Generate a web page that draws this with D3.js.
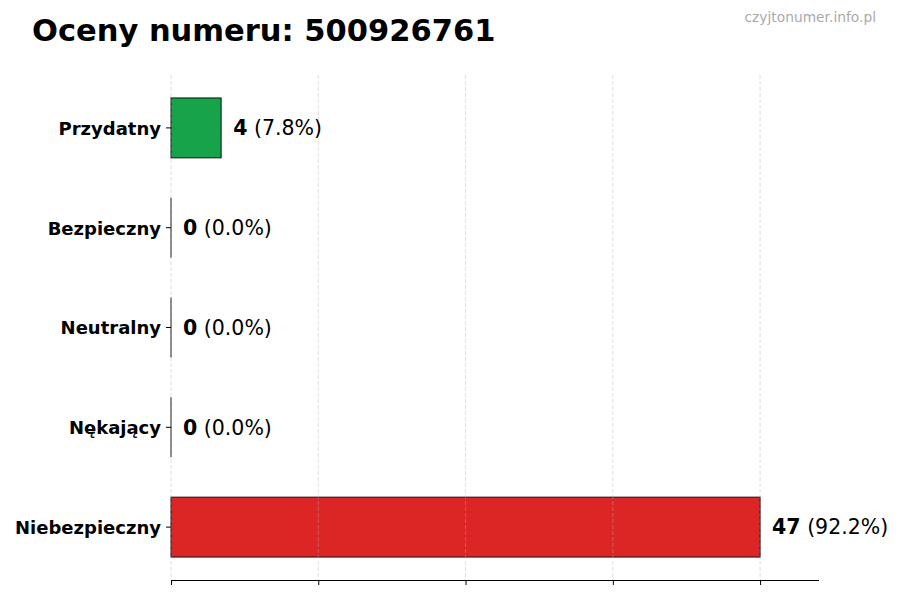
<!DOCTYPE html>
<html lang="pl">
<head>
    <meta charset="UTF-8">
    <title>Oceny numeru: 500926761</title>
    <script src="https://d3js.org/d3.v7.min.js"></script>
    <style>
        body { margin: 0; background: #fff; font-family: 'DejaVu Sans', sans-serif; }
    </style>
</head>
<body>
    <div id="chart"></div>
    <script>
        // Data (top to bottom)
        const categories = ['Przydatny', 'Bezpieczny', 'Neutralny', 'Nękający', 'Niebezpieczny'];
        const counts = [4, 0, 0, 0, 47];
        const percents = ['7.8', '0.0', '0.0', '0.0', '92.2'];
        const barColors = ['#16a34a', '#6b7280', '#6b7280', '#6b7280', '#dc2626'];

        const width = 900, height = 600;
        const plotLeft = 171, plotRight = 819, plotTop = 75, plotBottom = 580;

        const svg = d3.select('#chart').append('svg')
            .attr('width', width)
            .attr('height', height);

        const maxVal = d3.max(counts);
        const x = d3.scaleLinear().domain([0, maxVal * 1.1]).range([plotLeft, plotRight]);

        // index 0 at the top, bar height 0.6 of a category step
        const y = d3.scaleLinear()
            .domain([-0.53, categories.length - 1 + 0.53])
            .range([plotTop, plotBottom]);
        const barH = y(0.3) - y(-0.3);

        const ticks = [0, maxVal / 4, maxVal / 2, maxVal * 3 / 4, maxVal];

        // bars
        svg.selectAll('rect.bar')
            .data(categories)
            .enter().append('rect')
            .attr('class', 'bar')
            .attr('x', x(0))
            .attr('y', (d, i) => y(i) - barH / 2)
            .attr('width', (d, i) => x(counts[i]) - x(0))
            .attr('height', barH)
            .attr('fill', (d, i) => barColors[i])
            .attr('stroke', '#111')
            .attr('stroke-width', 1);

        // zero-width bars still show their edge
        svg.selectAll('line.zero')
            .data(categories.filter((d, i) => counts[i] === 0))
            .enter().append('line')
            .attr('class', 'zero')
            .attr('x1', x(0)).attr('x2', x(0))
            .attr('y1', d => y(categories.indexOf(d)) - barH / 2)
            .attr('y2', d => y(categories.indexOf(d)) + barH / 2)
            .attr('stroke', '#111')
            .attr('stroke-width', 1);

        // grid lines (drawn over bars, faint)
        svg.selectAll('line.grid')
            .data(ticks)
            .enter().append('line')
            .attr('class', 'grid')
            .attr('x1', d => x(d)).attr('x2', d => x(d))
            .attr('y1', plotTop).attr('y2', plotBottom)
            .attr('stroke', '#b0b0b0')
            .attr('stroke-opacity', 0.5)
            .attr('stroke-dasharray', '4,2')
            .attr('stroke-width', 0.8);

        // bottom axis without labels
        const xAxis = d3.axisBottom(x).tickValues(ticks).tickSize(5).tickFormat('');
        const gx = svg.append('g')
            .attr('transform', `translate(0,${plotBottom})`)
            .call(xAxis);
        gx.select('.domain').attr('stroke', '#000').attr('d', `M${plotLeft},0.5H${plotRight}`);
        gx.selectAll('.tick line').attr('stroke', '#000');

        // y tick marks + labels
        const gy = svg.append('g');
        gy.selectAll('line')
            .data(categories)
            .enter().append('line')
            .attr('x1', plotLeft - 5).attr('x2', plotLeft)
            .attr('y1', (d, i) => y(i)).attr('y2', (d, i) => y(i))
            .attr('stroke', '#000');
        gy.selectAll('text')
            .data(categories)
            .enter().append('text')
            .attr('x', plotLeft - 10)
            .attr('y', (d, i) => y(i))
            .attr('dy', '0.38em')
            .attr('text-anchor', 'end')
            .attr('font-size', 18)
            .attr('font-weight', 'bold')
            .attr('fill', '#000')
            .text(d => d);

        // value labels
        const vals = svg.selectAll('text.val')
            .data(categories)
            .enter().append('text')
            .attr('class', 'val')
            .attr('x', (d, i) => x(counts[i]) + 12)
            .attr('y', (d, i) => y(i))
            .attr('dy', '0.36em')
            .attr('font-size', 20.5)
            .attr('fill', '#000');
        vals.append('tspan').attr('font-weight', 'bold').text((d, i) => counts[i]);
        vals.append('tspan').text((d, i) => ` (${percents[i]}%)`);

        // title and watermark
        svg.append('text')
            .attr('x', 32).attr('y', 41)
            .attr('font-size', 30.5)
            .attr('font-weight', 'bold')
            .attr('fill', '#000')
            .text('Oceny numeru: 500926761');

        svg.append('text')
            .attr('x', 876).attr('y', 22)
            .attr('text-anchor', 'end')
            .attr('font-size', 13.8)
            .attr('fill', '#aaa')
            .text('czyjtonumer.info.pl');
    </script>
</body>
</html>
